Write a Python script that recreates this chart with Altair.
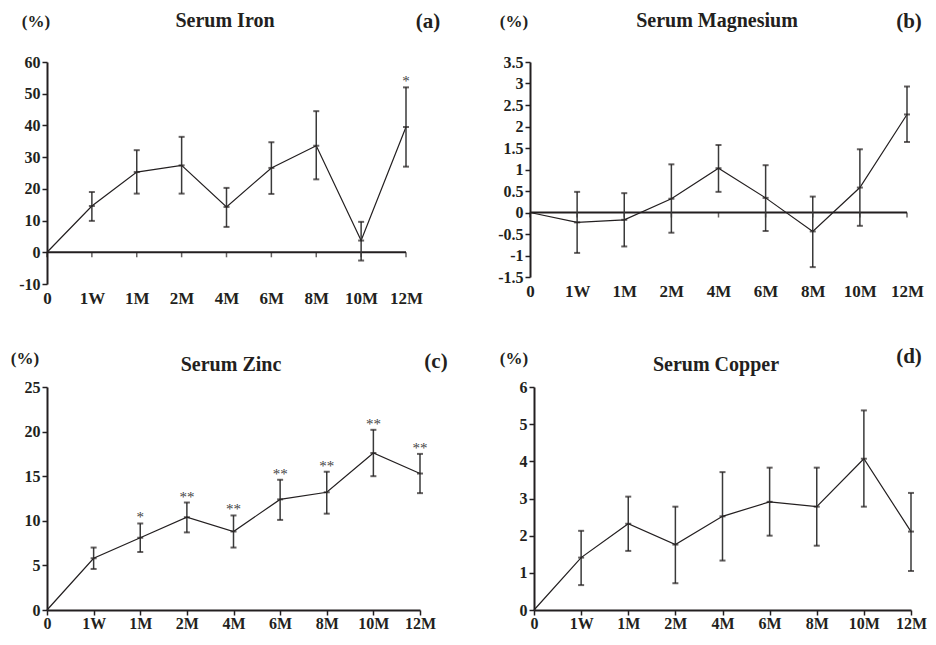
import altair as alt
import pandas as pd

# ---------------- data ----------------
cats = ["0", "1W", "1M", "2M", "4M", "6M", "8M", "10M", "12M"]

iron_mean = [0, 14.6, 25.3, 27.4, 14.3, 26.6, 33.6, 3.7, 39.5]
iron_hi = [0, 19.0, 32.2, 36.4, 20.3, 34.7, 44.5, 9.6, 52.0]
iron_lo = [0, 9.9, 18.5, 18.5, 8.0, 18.4, 23.0, -2.6, 27.0]
iron_sig = ["", "", "", "", "", "", "", "", "*"]

mg_mean = [0, -0.23, -0.17, 0.32, 1.03, 0.34, -0.44, 0.58, 2.28]
mg_hi = [0, 0.48, 0.45, 1.12, 1.57, 1.10, 0.37, 1.47, 2.93]
mg_lo = [0, -0.94, -0.79, -0.47, 0.48, -0.43, -1.27, -0.31, 1.64]
mg_sig = ["", "", "", "", "", "", "", "", ""]

zn_mean = [0, 5.8, 8.1, 10.4, 8.8, 12.4, 13.2, 17.6, 15.3]
zn_hi = [0, 7.0, 9.7, 12.05, 10.6, 14.6, 15.5, 20.2, 17.5]
zn_lo = [0, 4.6, 6.5, 8.7, 7.0, 10.1, 10.8, 15.0, 13.1]
zn_sig = ["", "", "*", "**", "**", "**", "**", "**", "**"]

cu_mean = [0, 1.41, 2.32, 1.76, 2.52, 2.91, 2.78, 4.07, 2.11]
cu_hi = [0, 2.13, 3.05, 2.78, 3.71, 3.83, 3.83, 5.37, 3.15]
cu_lo = [0, 0.67, 1.59, 0.72, 1.33, 2.00, 1.73, 2.78, 1.05]
cu_sig = ["", "", "", "", "", "", "", "", ""]

iron_ticks = [-10, 0, 10, 20, 30, 40, 50, 60]
mg_ticks = [-1.5, -1, -0.5, 0, 0.5, 1, 1.5, 2, 2.5, 3, 3.5]
zn_ticks = [0, 5, 10, 15, 20, 25]
cu_ticks = [0, 1, 2, 3, 4, 5, 6]

FONT = "Liberation Serif"
INK = "#231f20"
BAR = "#3a3a3a"


def header(text, px, py, size):
    return alt.Chart(pd.DataFrame({"s": [text]})).mark_text(
        font=FONT, fontSize=size, fontWeight="bold", fill=INK,
        align="center", baseline="alphabetic"
    ).encode(x=alt.value(px), y=alt.value(py), text="s:N")


def panel(title, tag, mean, hi, lo, sig, ydom, yvals, w, h, zero_line, hdr):
    df = pd.DataFrame({"t": cats, "m": mean, "hi": hi, "lo": lo, "sig": sig})
    base = alt.Chart(df)
    xaxis = alt.Axis(
        labelAngle=0, labelFont=FONT, labelFontSize=17 if zero_line else 16,
        labelFontWeight="bold", labelColor=INK, grid=False,
        labelOverlap=False,
        domain=not zero_line, ticks=not zero_line,
        domainColor=INK, domainWidth=2, tickColor=INK, tickWidth=1.5,
        tickSize=5, labelPadding=6 if zero_line else 0,
    )
    yaxis = alt.Axis(
        values=yvals, labelExpr="datum.value + ''",
        labelFont=FONT, labelFontSize=16, labelFontWeight="bold",
        labelColor=INK, grid=False, labelOverlap=False,
        domainColor=INK, domainWidth=2,
        tickColor=INK, tickWidth=1.5, tickSize=5, labelPadding=2,
    )
    xscale = alt.Scale(type="point", padding=0)
    yscale = alt.Scale(domain=ydom, nice=False, zero=False)

    def X():
        return alt.X("t:N", sort=cats, title=None, scale=xscale, axis=xaxis)

    def Y(f):
        return alt.Y(f, title=None, scale=yscale, axis=yaxis)

    def Y0():
        return alt.YDatum(0, title=None, scale=yscale, axis=yaxis)

    line = base.mark_line(color=INK, strokeWidth=1.2).encode(x=X(), y=Y("m:Q"))
    eb = base.transform_filter("datum.t != '0'")
    rule = eb.mark_rule(color=BAR, strokeWidth=1.5).encode(
        x=X(), y=Y("lo:Q"), y2="hi:Q")
    cap_hi = eb.mark_tick(color=INK, size=6, thickness=2).encode(
        x=X(), y=Y("hi:Q"))
    cap_lo = eb.mark_tick(color=INK, size=6, thickness=2).encode(
        x=X(), y=Y("lo:Q"))
    cap_m = eb.mark_tick(color=INK, size=6, thickness=2).encode(
        x=X(), y=Y("m:Q"))
    stars = base.transform_filter("datum.sig != ''").mark_text(
        font=FONT, fontSize=15, fill="#444444", baseline="alphabetic",
        align="center", dy=-1
    ).encode(x=X(), y=Y("hi:Q"), text="sig:N")

    layers = [line]
    if zero_line:
        zl = base.mark_line(color=INK, strokeWidth=2).encode(x=X(), y=Y0())
        zt = base.mark_tick(color=INK, orient="vertical", size=5,
                            thickness=1.5, yOffset=2.5).encode(x=X(), y=Y0())
        layers += [zl, zt]
    layers += [rule, cap_hi, cap_lo, cap_m, stars]
    (p_x, p_y), (t_x, t_y), (g_x, g_y) = hdr
    layers += [header("(%)", p_x, p_y, 17),
               header(title, t_x, t_y, 20),
               header(tag, g_x, g_y, 21)]
    return alt.layer(*layers).properties(width=w, height=h)


pa = panel("Serum Iron", "(a)", iron_mean, iron_hi, iron_lo, iron_sig,
           [-10, 60], iron_ticks, 359, 222, True,
           ((-11, -35), (178, -35), (381, -34)))
pb = panel("Serum Magnesium", "(b)", mg_mean, mg_hi, mg_lo, mg_sig,
           [-1.5, 3.5], mg_ticks, 377, 215, True,
           ((-16, -35), (187, -35), (379, -34)))
pc = panel("Serum Zinc", "(c)", zn_mean, zn_hi, zn_lo, zn_sig,
           [0, 25], zn_ticks, 373, 223, False,
           ((-22, -23), (184, -16.5), (389, -19)))
pd_ = panel("Serum Copper", "(d)", cu_mean, cu_hi, cu_lo, cu_sig,
            [0, 6], cu_ticks, 377, 223, False,
            ((-20, -23.5), (182, -16.5), (375, -24)))

row1 = alt.hconcat(pa, pb, spacing=124, bounds="flush")
row2 = alt.hconcat(pc, pd_, spacing=114, bounds="flush")
chart = alt.vconcat(row1, row2, spacing=40).properties(
    padding={"left": 2, "top": 3, "right": 0, "bottom": 0}
).configure(
    background="white",
    view=alt.ViewConfig(stroke=None),
    axis=alt.AxisConfig(labelOverlap=False),
)

chart.save("out.html", embed_options={"renderer": "svg", "actions": False})
